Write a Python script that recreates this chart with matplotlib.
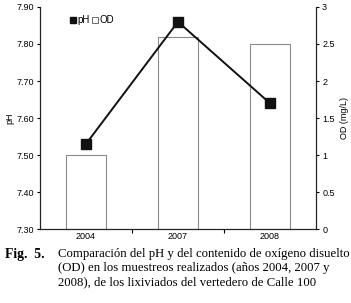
import numpy as np
import matplotlib.pyplot as plt

# data
years = ["2004", "2007", "2008"]
ph = [7.53, 7.86, 7.64]
od = [1.0, 2.6, 2.5]

plt.rcParams['font.family'] = ['Liberation Sans', 'DejaVu Sans']

fig = plt.figure(figsize=(3.51, 3.03), dpi=100)
ax = fig.add_axes([0.114, 0.244, 0.786, 0.733])
ax2 = ax.twinx()

x = np.arange(len(years))

# OD bars on the right axis
ax2.bar(x, od, width=0.43, color='white', edgecolor='#8a8a8a', linewidth=0.8, zorder=1)
ax2.set_ylim(0, 3)
ax2.set_yticks(np.arange(0, 3.01, 0.5))
ax2.set_yticklabels(["0", "0.5", "1", "1.5", "2", "2.5", "3"])
ax2.set_ylabel("OD (mg/L)", fontsize=6.5, labelpad=4)

# pH line on the left axis, drawn above the bars
ax.set_zorder(ax2.get_zorder() + 1)
ax.patch.set_visible(False)
ax.plot(x, ph, color='#111111', linewidth=1.4, marker='s', markersize=7, zorder=3)
ax.set_ylim(7.30, 7.90)
ax.set_yticks(np.arange(7.30, 7.901, 0.10))
ax.set_yticklabels([f"{v:.2f}" for v in np.arange(7.30, 7.901, 0.10)])
ax.set_ylabel("pH", fontsize=6.5, labelpad=1)

ax.set_xlim(-0.5, 2.5)
ax.set_xticks([0.5, 1.5])
ax.set_xticklabels([])
ax.tick_params(axis='x', length=3, width=0.8, direction='out')
for xi, lab in zip(x, years):
    ax.text(xi, -0.012, lab, transform=ax.get_xaxis_transform(), ha='center', va='top', fontsize=6.5)

for a in (ax, ax2):
    a.spines['top'].set_visible(False)
    for s in ('left', 'right', 'bottom'):
        a.spines[s].set_linewidth(0.8)
        a.spines[s].set_color('#222222')
    a.tick_params(axis='y', labelsize=6.5, length=2.5, width=0.8, direction='out', pad=2)

# legend drawn as text with square markers
ax.plot([0.12], [0.94], transform=ax.transAxes, marker='s', markersize=5, color='#111111', clip_on=False)
ax.text(0.134, 0.94, "pH", transform=ax.transAxes, va='center', fontsize=7)
ax.plot([0.2], [0.94], transform=ax.transAxes, marker='s', markersize=4.2, markerfacecolor='white',
        markeredgecolor='#555555', markeredgewidth=0.6, clip_on=False)
ax.text(0.214, 0.94, "OD", transform=ax.transAxes, va='center', fontsize=7)

# caption
serif = ['Liberation Serif', 'DejaVu Serif']
fig.text(0.014, 0.182, "Fig.  5.", fontsize=9.8, fontweight='bold', family=serif, va='top')
fig.text(0.165, 0.182,
         "Comparación del pH y del contenido de oxígeno disuelto\n"
         "(OD) en los muestreos realizados (años 2004, 2007 y\n"
         "2008), de los lixiviados del vertedero de Calle 100",
         fontsize=9.2, family=serif, va='top', linespacing=1.24)

fig.savefig("out.png", dpi=100)
